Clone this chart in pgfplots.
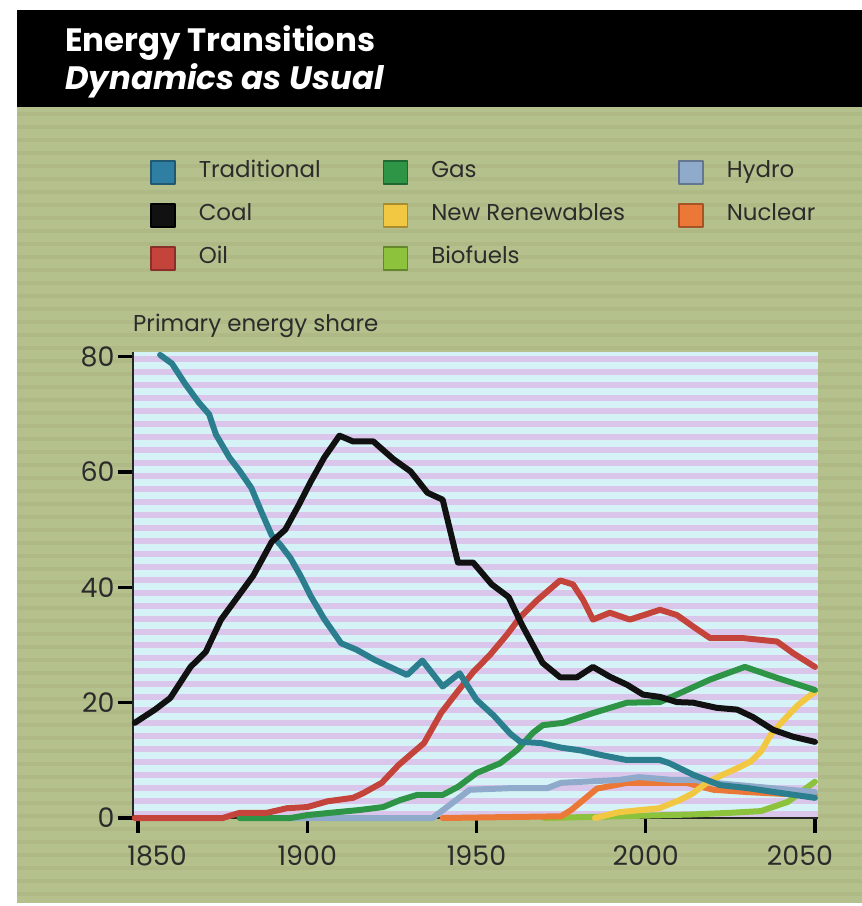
\documentclass[border=0pt]{standalone}
\usepackage{pgfplots}
\pgfplotsset{compat=1.18}
\usepackage{fontspec}
\setmainfont{Poppins}
\definecolor{trad}{HTML}{2A7E8E}
\definecolor{tradsq}{HTML}{2F7FA3}
\definecolor{coal}{HTML}{111111}
\definecolor{oil}{HTML}{C4443C}
\definecolor{gas}{HTML}{2E9547}
\definecolor{newren}{HTML}{F2C842}
\definecolor{bio}{HTML}{8CC23C}
\definecolor{hydro}{HTML}{8FAACB}
\definecolor{nuc}{HTML}{EC7838}
\definecolor{bggreen}{HTML}{B5C18D}
\definecolor{bgstreak}{HTML}{A7B07E}
\definecolor{plotcyan}{HTML}{D5F3F6}
\definecolor{plotlav}{HTML}{DAC6EA}
\definecolor{labtext}{HTML}{2B2B2B}
\pgfplotstableread{
x y
1856.5 80.3
1860 78.8
1864 75.2
1868 72
1871 70
1873 66.5
1877 62.5
1880 60.2
1883.5 57.2
1886.5 53
1889.5 49
1892 47.4
1895 45.1
1898 42
1901 38.5
1905 34.5
1910 30.3
1914.5 29.2
1920 27.4
1929.5 24.8
1934 27.3
1940 22.8
1945 25.1
1950 20.5
1955 17.8
1960 14.6
1963 13.2
1969 13.0
1975 12.2
1981 11.7
1987 10.9
1994 10.1
2004 10.1
2007 9.5
2014 7.5
2022 5.7
2030 5.2
2038 4.5
2050 3.5
}\tradtab
\pgfplotstableread{
x y
1849 16.5
1855 18.8
1859.5 20.8
1865.5 26.2
1870 28.8
1874.5 34.4
1879.5 38.4
1884 42
1889.5 47.9
1893.5 50
1897.5 54.3
1901 58.3
1905 62.5
1909.5 66.3
1913.5 65.3
1919.5 65.3
1925.5 62.2
1930.5 60.1
1935.5 56.4
1940 55.2
1944.5 44.3
1949 44.3
1954.5 40.5
1959.5 38.3
1963.5 33.4
1969.5 26.9
1974.7 24.4
1979.7 24.4
1984.4 26.2
1989.4 24.5
1994.5 23.1
1999.2 21.4
2004.2 21.0
2009.2 20.1
2014 20.0
2021 19.1
2027 18.8
2031.7 17.5
2037.6 15.3
2043.5 14.1
2050 13.2
}\coaltab
\pgfplotstableread{
x y
1849 0
1875 0
1880 0.9
1888 0.9
1894 1.7
1900 1.9
1906 2.9
1913.5 3.5
1916.5 4.3
1922 6.1
1927 9.2
1934.5 13
1939.5 18.2
1944.5 22
1949 25.3
1954 28.3
1959 31.8
1963 34.9
1968 37.8
1974.7 41.2
1978.5 40.5
1981.5 37.8
1984.4 34.4
1989.4 35.6
1995.3 34.4
2004.2 36.1
2009.2 35.2
2014 33.2
2019 31.2
2028.7 31.2
2038.8 30.6
2043.5 28.6
2050 26.2
}\oiltab
\pgfplotstableread{
x y
1880 0
1895 0
1900 0.5
1906.7 0.9
1915.6 1.4
1922.4 1.9
1927.4 3.1
1932.4 4.0
1940 4.0
1944.5 5.4
1950 7.8
1957 9.5
1962 11.8
1966.7 14.8
1969.6 16.1
1975.6 16.5
1984.4 18.2
1994.5 20.0
2004.2 20.1
2012.2 22.2
2019 24.0
2029.3 26.2
2038.8 24.3
2050 22.2
}\gastab
\pgfplotstableread{
x y
1895 0
1937 0
1948 4.9
1961 5.2
1971 5.2
1975 6.1
1992 6.6
1998 7.1
2008 6.6
2014 6.6
2022 6.0
2035 5.3
2050 4.5
}\hydrotab
\pgfplotstableread{
x y
1940 0
1975 0.3
1978 1.4
1981.5 3.1
1985.6 5.1
1994.5 6.1
2003 6.1
2012 6.1
2020 4.9
2030 4.5
2040 4.2
2050 4.0
}\nuctab
\pgfplotstableread{
x y
1985 0
1992 1
2004 1.7
2010 3.1
2014 4.3
2018 6.1
2022 7.3
2028 8.9
2031 9.8
2034 11.5
2037 14.5
2040 16.5
2045 19.6
2050 21.9
}\newrentab
\pgfplotstableread{
x y
1970 0
2013 0.6
2025 0.9
2034 1.2
2042 2.8
2050 6.3
}\biotab
\begin{document}
\begin{tikzpicture}[x=1bp,y=1bp]
\useasboundingbox (0,0) rectangle (862,-906);
\fill[white] (0,0) rectangle (862,-906);
\fill[bggreen] (17,-107) rectangle (862,-903);
\foreach \i in {0,...,60} {\fill[bgstreak,opacity=0.45] (17,{-112-13*\i}) rectangle (862,{-116-13*\i});}
\fill[black] (17,-10) rectangle (862,-107);
\fill[plotcyan] (133,-352) rectangle (818,-818);
\foreach \i in {0,...,35} {\fill[plotlav] (133,{-356-13*\i}) rectangle (818,{-362-13*\i});}
\node[anchor=base west, text=white, inner sep=0pt, font=\fontsize{32.5}{32.5}\selectfont\bfseries] at (65,-51) {Energy Transitions};
\node[anchor=base west, text=white, inner sep=0pt, font=\fontsize{32.5}{32.5}\selectfont\bfseries\itshape] at (65,-89) {Dynamics as Usual};
\begin{axis}[
  at={(133bp,-818bp)}, anchor=south west,
  scale only axis, width=685bp, height=466bp,
  xmin=1848.5, xmax=2050.9, ymin=0, ymax=80.8,
  clip=false,
  axis lines*=left,
  axis line style={line width=2bp, black!85},
  tick align=outside,
  major tick length=15bp,
  tick style={line width=3.5bp, black},
  xtick={1850,1900,1950,2000,2050},
  xticklabels={\hspace{38bp}1850,1900,1950,2000,2050\kern30bp},
  ytick={0,20,40,60,80},
  yticklabels={0,20,40,60,80},
  tick label style={font=\fontsize{27}{27}\selectfont, text=labtext},
  xticklabel style={yshift=-9bp},
  ylabel={Primary energy share},
  ylabel style={rotate=-90, at={(rel axis cs:0,1)}, anchor=base west, yshift=21bp, font=\fontsize{23}{23}\selectfont, text=labtext, inner sep=0pt},
  legend columns=3,
  legend cell align=left,
  legend style={at={(rel axis cs:0.0252,1.412)}, anchor=north west, draw=none, fill=none, inner sep=0pt, outer sep=0pt,
    font=\fontsize{23}{23}\selectfont, text=labtext, row sep=18.5bp, column sep=0pt,
    nodes={inner sep=0pt, text height=17bp, text depth=7bp}},
  legend image code/.code={\filldraw[#1, line width=1.5bp] (0bp,-11.5bp) rectangle (24bp,11.5bp);},
  every axis plot/.append style={line width=6bp, line join=round, line cap=round},
]
\addlegendimage{fill=tradsq, draw=tradsq!70!black}
\addlegendentry{\makebox[207bp][l]{\hspace{23bp}Traditional}}
\addlegendimage{fill=gas, draw=gas!70!black}
\addlegendentry{\makebox[270bp][l]{\hspace{23bp}Gas}}
\addlegendimage{fill=hydro, draw=hydro!70!black}
\addlegendentry{\hspace{23bp}Hydro}
\addlegendimage{fill=coal, draw=black}
\addlegendentry{\makebox[207bp][l]{\hspace{23bp}Coal}}
\addlegendimage{fill=newren, draw=newren!70!black}
\addlegendentry{\makebox[270bp][l]{\hspace{23bp}New Renewables}}
\addlegendimage{fill=nuc, draw=nuc!70!black}
\addlegendentry{\hspace{23bp}Nuclear}
\addlegendimage{fill=oil, draw=oil!70!black}
\addlegendentry{\makebox[207bp][l]{\hspace{23bp}Oil}}
\addlegendimage{fill=bio, draw=bio!70!black}
\addlegendentry{\makebox[270bp][l]{\hspace{23bp}Biofuels}}
\addplot[bio, forget plot] table {\biotab};
\addplot[nuc, forget plot] table {\nuctab};
\addplot[hydro, forget plot] table {\hydrotab};
\addplot[newren, forget plot] table {\newrentab};
\addplot[gas, forget plot] table {\gastab};
\addplot[oil, forget plot] table {\oiltab};
\addplot[trad, forget plot] table {\tradtab};
\addplot[coal, forget plot] table {\coaltab};
\end{axis}
\end{tikzpicture}
\end{document}
